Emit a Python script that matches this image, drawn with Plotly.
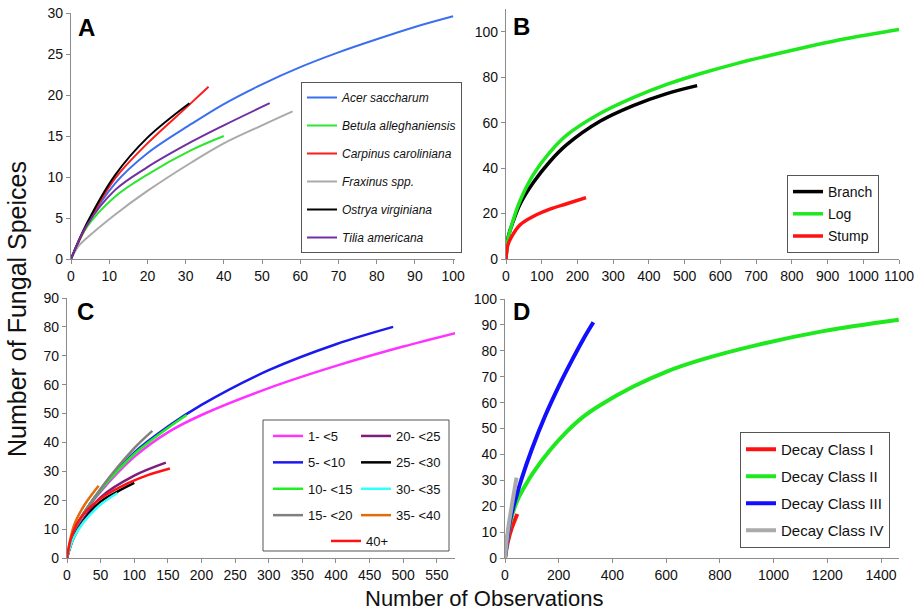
import plotly.graph_objects as go

FONT = "Liberation Sans, Arial, sans-serif"
W, H = 923, 613

# ---------------- Panel A: tree species ----------------
A_names = ["Acer saccharum", "Betula alleghaniensis", "Carpinus caroliniana",
           "Fraxinus spp.", "Ostrya virginiana", "Tilia americana"]
A_colors = ["#3a6ff0", "#2ee62e", "#ff1a1a", "#aaaaaa", "#000000", "#7030a0"]
A_x = [
    [0, 4, 11.5, 20, 31.6, 40, 50, 60, 70, 80, 90, 100],
    [0, 4, 11.5, 20, 31.6, 40],
    [0, 4, 11.5, 20, 30, 36],
    [0, 2, 4, 11.5, 20, 31.6, 40, 50, 58],
    [0, 4, 11.5, 20, 31],
    [0, 4, 11.5, 20, 31.6, 40, 52],
]
A_y = [
    [0, 4.0, 9.2, 12.9, 16.5, 18.9, 21.3, 23.4, 25.2, 26.8, 28.3, 29.6],
    [0, 3.8, 7.6, 10.3, 13.3, 15.0],
    [0, 4.0, 9.8, 14.1, 18.4, 21.0],
    [0, 1.6, 2.5, 5.4, 8.3, 11.8, 14.1, 16.3, 18.0],
    [0, 4.2, 10.2, 14.8, 19.0],
    [0, 4.0, 8.4, 11.2, 14.3, 16.3, 19.0],
]

# ---------------- Panel B: substrate type ----------------
B_names = ["Branch", "Log", "Stump"]
B_colors = ["#000000", "#1ee81e", "#ff1111"]
B_x = [
    [0, 6, 20, 39, 76, 123, 170, 263, 356, 450, 535],
    [0, 6, 20, 39, 76, 123, 170, 263, 356, 450, 543, 650, 750, 850, 950, 1100],
    [0, 5, 16, 39, 76, 123, 170, 224],
]
B_y = [
    [0, 9.5, 16.5, 24, 33.5, 42.9, 50.3, 60.6, 67.5, 72.8, 76.3],
    [0, 9, 17, 25.5, 37, 47, 54.5, 64, 71, 76.8, 81.5, 86.2, 90, 93.6, 96.9, 101],
    [0, 6, 9.9, 15, 18.7, 21.9, 24.3, 27.0],
]

# ---------------- Panel C: diameter class ----------------
C_names = ["1- <5", "5- <10", "10- <15", "15- <20",
           "20- <25", "25- <30", "30- <35", "35- <40", "40+"]
C_colors = ["#ff33ff", "#1a1aee", "#22ee22", "#808080",
            "#7b1f7b", "#000000", "#33ffff", "#e36c0a", "#ff1111"]
C_legend = ["legend3", "legend3", "legend3", "legend3",
            "legend5", "legend5", "legend5", "legend5", "legend6"]
C_x = [
    [0, 10, 25, 50, 100, 150, 200, 300, 400, 500, 580],
    [0, 10, 25, 50, 100, 150, 200, 300, 400, 485],
    [0, 10, 25, 50, 100, 150, 178],
    [0, 10, 25, 50, 100, 127],
    [0, 10, 25, 50, 100, 147],
    [0, 10, 25, 50, 75, 100],
    [0, 10, 25, 50, 75],
    [0, 10, 25, 47],
    [0, 5, 15, 30, 50, 90, 120, 153],
]
C_y = [
    [0, 9, 15.5, 23, 35, 43.5, 49.5, 58.8, 66.5, 73.2, 78],
    [0, 9, 15.5, 23.5, 36.5, 45.5, 53, 65, 74, 80],
    [0, 9, 15.5, 23.5, 36, 45, 49.5],
    [0, 9, 15.5, 24, 38, 44],
    [0, 7.5, 13.5, 21, 28.5, 33],
    [0, 7, 13, 19.5, 23, 26],
    [0, 7, 12.5, 18.5, 22.5],
    [0, 11, 18, 25],
    [0, 6, 12, 16.6, 20.6, 25.8, 28.7, 31],
]

# ---------------- Panel D: decay class ----------------
D_names = ["Decay Class I", "Decay Class II", "Decay Class III", "Decay Class IV"]
D_colors = ["#ff1111", "#1ee81e", "#1010ff", "#aaaaaa"]
D_x = [
    [0, 10, 25, 46],
    [0, 20, 45, 70, 105, 168, 230, 292, 354, 478, 602, 726, 937, 1185, 1466],
    [0, 20, 40, 60, 100, 150, 200, 250, 290, 329],
    [0, 10, 25, 43],
]
D_y = [
    [0, 6, 11.5, 17],
    [0, 14, 22, 27, 33, 41.7, 48.8, 54.6, 59, 66.2, 72, 76.4, 82.2, 87.6, 92],
    [0, 15, 23, 30, 42, 55, 66.3, 76.5, 84.2, 91],
    [0, 10, 20, 31],
]

fig = go.Figure()

panels = [
    ("x", "y", ["legend"] * 6, A_names, A_colors, A_x, A_y, 2, True),
    ("x2", "y2", ["legend2"] * 3, B_names, B_colors, B_x, B_y, 3.5, False),
    ("x3", "y3", C_legend, C_names, C_colors, C_x, C_y, 2.5, False),
    ("x4", "y4", ["legend4"] * 4, D_names, D_colors, D_x, D_y, 4, False),
]
for pi, (xa, ya, lgs, names, colors, xs, ys, w, ital) in enumerate(panels):
    for i, (n, c, xv, yv, lg) in enumerate(zip(names, colors, xs, ys, lgs)):
        fig.add_trace(go.Scatter(
            x=xv, y=yv, mode="lines", name=(f"<i>{n}</i>" if ital else n),
            line=dict(color=c, width=w, shape="spline", smoothing=1.0),
            xaxis=xa, yaxis=ya, legend=lg,
            legendgroup=f"p{pi}_{i}", showlegend=True,
        ))

axis_common = dict(
    showline=True, linecolor="#8c8c8c", linewidth=1.2, showgrid=False,
    zeroline=False, ticks="outside", ticklen=4, tickcolor="#8c8c8c",
    tickfont=dict(family=FONT, size=14, color="#111111"),
)


def px(v):
    return v / W


def py(v):
    return 1 - v / H


def leg(x, y, size, gap, border=True):
    return dict(x=px(x), y=py(y), xanchor="left", yanchor="top",
                bordercolor="#555555" if border else "rgba(0,0,0,0)",
                borderwidth=1 if border else 0,
                bgcolor="white" if border else "rgba(0,0,0,0)",
                font=dict(family=FONT, size=size, color="#111111"),
                tracegroupgap=gap, itemwidth=30)


fig.update_layout(
    width=W, height=H,
    margin=dict(l=0, r=0, t=0, b=0, autoexpand=False),
    paper_bgcolor="white", plot_bgcolor="white",
    font=dict(family=FONT, color="#111111"),
    xaxis=dict(domain=[px(71), px(455)], range=[0, 100.5], dtick=10, anchor="y", **axis_common),
    yaxis=dict(domain=[py(259), py(13)], range=[0, 30], dtick=5, anchor="x", **axis_common),
    xaxis2=dict(domain=[px(506), px(899)], range=[0, 1100], dtick=100, anchor="y2", **axis_common),
    yaxis2=dict(domain=[py(259), py(9)], range=[0, 110], tickvals=[0, 20, 40, 60, 80, 100], anchor="x2", **axis_common),
    xaxis3=dict(domain=[px(67), px(455)], range=[0, 577], dtick=50, anchor="y3", **axis_common),
    yaxis3=dict(domain=[py(558), py(298)], range=[0, 90], dtick=10, anchor="x3", **axis_common),
    xaxis4=dict(domain=[px(505), px(899)], range=[0, 1467], dtick=200, anchor="y4", **axis_common),
    yaxis4=dict(domain=[py(558), py(299)], range=[0, 100], dtick=10, anchor="x4", **axis_common),
    legend=leg(301, 82, 12, 9),
    legend2=leg(787, 175, 14, 1),
    legend3=leg(268, 421, 13, 6.5, border=False),
    legend5=leg(356, 421, 13, 6.5, border=False),
    legend6=leg(326, 526, 13, 0, border=False),
    legend4=leg(740, 432, 15, 4.5),
    shapes=[dict(type="rect", xref="paper", yref="paper",
                 x0=px(263), x1=px(449), y0=py(551), y1=py(420),
                 line=dict(color="#555555", width=1), fillcolor="rgba(0,0,0,0)",
                 layer="above")],
)

letters = [("A", 76, 27), ("B", 511, 26), ("C", 75, 311), ("D", 511, 311)]
for t, xp, yp in letters:
    fig.add_annotation(text=f"<b>{t}</b>", x=px(xp), y=py(yp), xref="paper", yref="paper",
                       xanchor="left", yanchor="middle", showarrow=False,
                       font=dict(family=FONT, size=24, color="#000000"))

fig.add_annotation(text="Number of Fungal Speices", x=px(17), y=py(309),
                   xref="paper", yref="paper", textangle=-90, showarrow=False,
                   xanchor="center", yanchor="middle",
                   font=dict(family=FONT, size=25, color="#111111"))
fig.add_annotation(text="Number of Observations", x=px(484), y=py(598),
                   xref="paper", yref="paper", showarrow=False,
                   xanchor="center", yanchor="middle",
                   font=dict(family=FONT, size=22, color="#111111"))

fig.write_html("out.html")
